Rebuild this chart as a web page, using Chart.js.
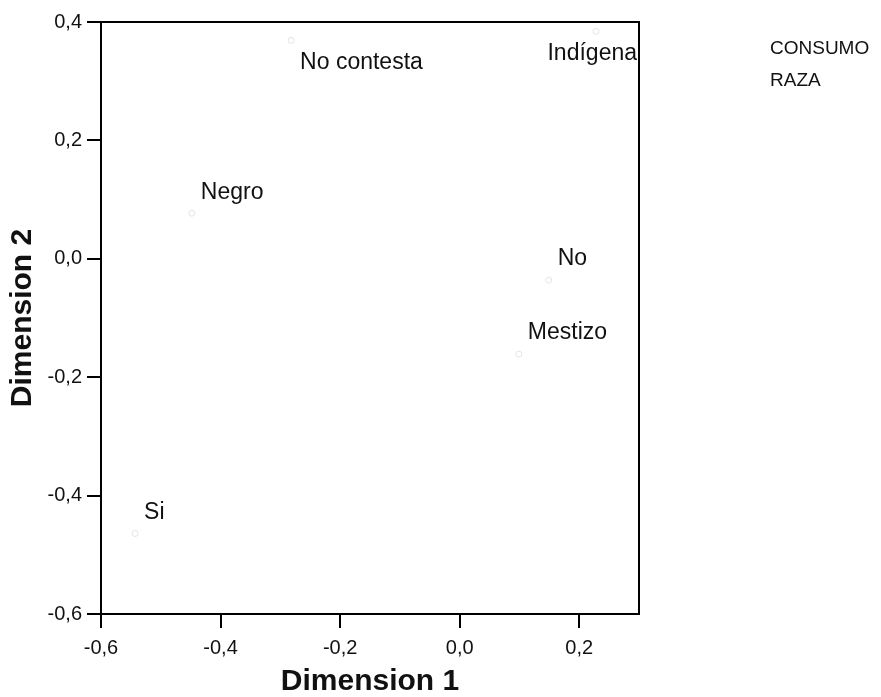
<!DOCTYPE html>
<html><head><meta charset="utf-8">
<script src="https://cdn.jsdelivr.net/npm/chart.js@4.4.1/dist/chart.umd.min.js"></script>
<style>html,body{margin:0;padding:0;background:#fff}#wrap{width:881px;height:697px;position:relative}</style>
</head><body><div id="wrap"><canvas id="c"></canvas></div>
<script>
// ---- data ----
const seriesNames = ['CONSUMO', 'RAZA'];
const consumoLabels = ['Si', 'No'];
const consumoDim1 = [-0.543, 0.149];
const consumoDim2 = [-0.464, -0.036];
const razaLabels = ['Negro', 'Mestizo', 'Indígena', 'No contesta'];
const razaDim1 = [-0.448, 0.099, 0.228, -0.282];
const razaDim2 = [0.077, -0.161, 0.384, 0.369];
const xTickValues = [-0.6, -0.4, -0.2, 0.0, 0.2];
const yTickValues = [-0.6, -0.4, -0.2, 0.0, 0.2, 0.4];
const xTitle = 'Dimension 1';
const yTitle = 'Dimension 2';

const FONT = '"Liberation Sans", Arial, sans-serif';
const fmt = v => (Math.abs(v) < 1e-9 ? 0 : v).toFixed(1).replace('.', ',');

function pts(xs, ys, labels) {
  return xs.map((x, i) => ({ x: x, y: ys[i], label: labels[i] }));
}

const pointLabelPlugin = {
  id: 'pointLabels',
  afterDatasetsDraw(chart) {
    const ctx = chart.ctx, area = chart.chartArea;
    ctx.save();
    ctx.font = '23px ' + FONT;
    ctx.fillStyle = '#111';
    ctx.textBaseline = 'middle';
    ctx.textAlign = 'left';
    chart.data.datasets.forEach((ds, di) => {
      chart.getDatasetMeta(di).data.forEach((el, i) => {
        const txt = ds.data[i].label;
        const w = ctx.measureText(txt).width;
        let x = el.x + 9, y = el.y - 21;
        if (y - 12 < area.top) y = el.y + 22;
        if (x + w > area.right - 2) x = area.right - 2 - w;
        ctx.fillText(txt, x, y);
      });
    });
    ctx.restore();
  }
};

const framePlugin = {
  id: 'frame',
  afterDraw(chart) {
    const ctx = chart.ctx, a = chart.chartArea;
    ctx.save();
    ctx.strokeStyle = '#000';
    ctx.lineWidth = 2;
    ctx.strokeRect(a.left, a.top, a.right - a.left, a.bottom - a.top);
    // legend text (series names)
    ctx.font = '19px ' + FONT;
    ctx.fillStyle = '#111';
    ctx.textBaseline = 'middle';
    ctx.textAlign = 'left';
    chart.data.datasets.forEach((ds, i) => {
      ctx.fillText(ds.label, 770, 49 + i * 32);
    });
    ctx.restore();
  }
};

new Chart(document.getElementById('c'), {
  type: 'scatter',
  data: {
    datasets: [
      { label: seriesNames[0], data: pts(consumoDim1, consumoDim2, consumoLabels),
        pointRadius: 3, pointBackgroundColor: 'rgba(0,0,0,0)', pointBorderColor: '#e4e4e4', pointBorderWidth: 1 },
      { label: seriesNames[1], data: pts(razaDim1, razaDim2, razaLabels),
        pointRadius: 3, pointBackgroundColor: 'rgba(0,0,0,0)', pointBorderColor: '#e4e4e4', pointBorderWidth: 1 }
    ]
  },
  options: {
    responsive: true,
    maintainAspectRatio: false,
    animation: false,
    events: [],
    layout: { padding: { top: 22, right: 242, left: 0, bottom: 0 } },
    plugins: { legend: { display: false }, tooltip: { enabled: false } },
    scales: {
      x: {
        type: 'linear', min: -0.6, max: 0.3,
        afterBuildTicks: s => { s.ticks = xTickValues.map(v => ({ value: v })); },
        afterFit: s => { s.height = 83; },
        ticks: { callback: v => fmt(v), color: '#111', font: { family: FONT, size: 20 }, padding: 8, maxRotation: 0 },
        grid: { drawOnChartArea: false, drawTicks: true, tickLength: 14, color: '#000', lineWidth: 2 },
        border: { display: true, color: '#000', width: 2 },
        title: { display: true, text: xTitle, color: '#111', font: { family: FONT, size: 30, weight: 'bold', lineHeight: 1 }, padding: { top: 0, bottom: 0 } }
      },
      y: {
        type: 'linear', min: -0.6, max: 0.4,
        afterBuildTicks: s => { s.ticks = yTickValues.map(v => ({ value: v })); },
        afterFit: s => { s.width = 101; },
        ticks: { callback: v => fmt(v), color: '#111', font: { family: FONT, size: 20 }, padding: 5 },
        grid: { drawOnChartArea: false, drawTicks: true, tickLength: 14, color: '#000', lineWidth: 2 },
        border: { display: true, color: '#000', width: 2 },
        title: { display: true, text: yTitle, color: '#111', font: { family: FONT, size: 30, weight: 'bold', lineHeight: 1 }, padding: { top: 8, bottom: 0 } }
      }
    }
  },
  plugins: [pointLabelPlugin, framePlugin]
});
</script>
</body></html>
